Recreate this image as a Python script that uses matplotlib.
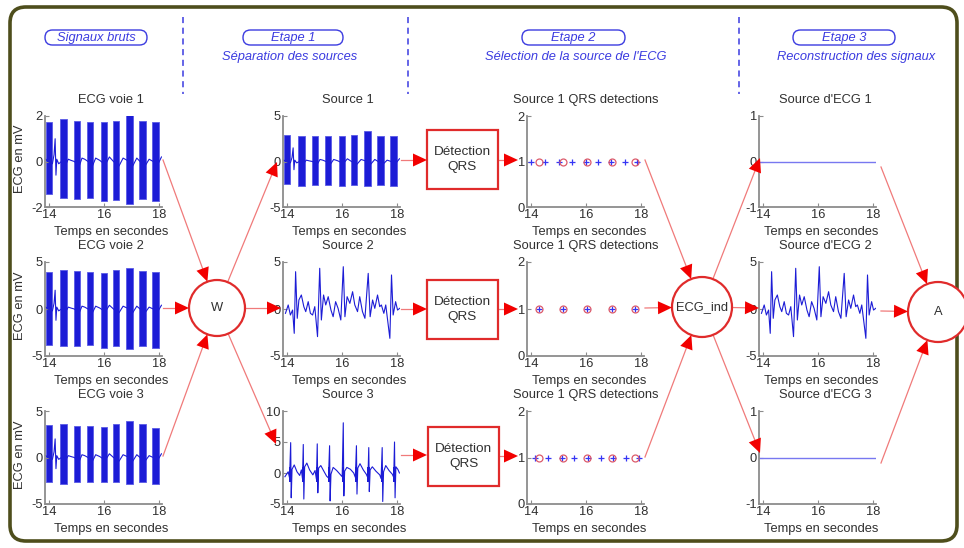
import numpy as np
import matplotlib
matplotlib.use("Agg")
import matplotlib.pyplot as plt
from matplotlib.patches import Circle, Rectangle, Polygon, FancyBboxPatch

plt.rcParams['font.family'] = ['Liberation Sans', 'DejaVu Sans']
plt.rcParams['axes.unicode_minus'] = False

# ------------------------------------------------------------------ data
time_ticks = [14, 16, 18]
time_range = [13.85, 18.12]

maternal_beats = [13.99, 14.52, 15.02, 15.50, 16.00, 16.44, 16.93, 17.41, 17.88]
fetal_beats = [14.30, 15.17, 16.04, 16.95, 17.79]
source3_beats = [14.14, 14.60, 15.11, 15.56, 16.06, 16.54, 16.99, 17.48, 17.93]

voie1_top = [1.75, 1.85, 1.8, 1.75, 1.75, 1.8, 2.15, 1.8, 1.75]
voie1_bot = [-1.45, -1.6, -1.65, -1.6, -1.75, -1.7, -1.85, -1.65, -1.75]
voie2_top = [3.9, 4.1, 4.0, 3.9, 3.8, 4.1, 4.4, 4.0, 3.9]
voie2_bot = [-3.8, -3.9, -3.9, -3.8, -4.1, -3.9, -4.3, -3.9, -4.1]
voie3_top = [3.5, 3.6, 3.4, 3.4, 3.3, 3.6, 3.9, 3.6, 3.2]
voie3_bot = [-2.6, -2.8, -2.6, -2.6, -2.6, -2.6, -2.8, -2.6, -2.8]
source1_top = [2.9, 2.8, 2.8, 2.8, 2.8, 2.9, 3.4, 2.8, 2.8]
source1_bot = [-2.5, -2.7, -2.6, -2.6, -2.7, -2.6, -2.7, -2.6, -2.7]

baseline_t = [13.88, 13.95, 14.12, 14.18, 14.22, 14.25, 14.28, 14.35, 14.45, 14.6,
              14.7, 14.8, 14.92, 15.1, 15.2, 15.3, 15.42, 15.58, 15.7, 15.85,
              16.05, 16.2, 16.35, 16.55, 16.7, 16.85, 17.05, 17.2, 17.32, 17.5,
              17.65, 17.8, 17.98, 18.1]
baseline_v = [0.1, 0.0, -0.1, 0.3, 1.0, -0.6, 0.1, -0.1, 0.0, -0.15,
              0.1, 0.05, 0.0, -0.2, 0.15, 0.1, 0.0, -0.2, 0.15, 0.05,
              -0.15, 0.2, 0.0, -0.2, 0.15, 0.05, -0.2, 0.15, 0.0, -0.2,
              0.1, 0.0, -0.1, 0.2]

source2_t = [13.94, 14.04, 14.12, 14.20, 14.26, 14.31, 14.37, 14.43, 14.52, 14.61,
             14.68, 14.77, 14.85, 14.93, 15.01, 15.11, 15.19, 15.25, 15.33, 15.41,
             15.50, 15.60, 15.68, 15.77, 15.86, 15.96, 16.05, 16.11, 16.19, 16.29,
             16.39, 16.47, 16.57, 16.65, 16.75, 16.84, 16.96, 17.03, 17.12, 17.20,
             17.30, 17.38, 17.44, 17.53, 17.60, 17.75, 17.81, 17.87, 17.96, 18.03,
             18.11]
source2_v = [-0.46, 0.43, -0.64, -0.11, -2.59, 3.97, -0.99, 0.96, 1.49, 0.25,
             -0.28, 0.78, -0.46, -0.64, 0.25, -2.94, 4.33, -1.17, 1.49, 0.43,
             1.31, -0.11, -0.82, 0.78, 0.07, -1.17, 4.50, -0.82, 1.31, 0.60,
             1.84, 0.43, -0.28, 1.31, -0.28, -0.99, 3.79, -0.82, 0.96, 0.07,
             1.49, 0.25, 0.43, -0.46, 0.43, -3.12, 3.62, -0.64, 0.78, -0.11,
             0.07]

source3_t = [13.92, 14.04, 14.09, 14.13, 14.15, 14.18, 14.26, 14.36, 14.46,
             14.52, 14.56, 14.59, 14.61, 14.64, 14.72, 14.82, 14.94,
             15.02, 15.07, 15.10, 15.12, 15.15, 15.23, 15.34, 15.44,
             15.51, 15.55, 15.57, 15.60, 15.68, 15.81, 15.93,
             16.01, 16.05, 16.07, 16.10, 16.18, 16.31, 16.43,
             16.49, 16.53, 16.55, 16.58, 16.66, 16.78, 16.89,
             16.95, 16.98, 17.00, 17.03, 17.11, 17.24, 17.38,
             17.43, 17.47, 17.49, 17.52, 17.60, 17.72, 17.84,
             17.89, 17.92, 17.94, 17.97, 18.04, 18.10]
source3_v = [-0.6, 0.2, -0.8, 4.9, -4.0, 0.6, 1.3, 0.2, -0.4,
             0.5, -0.9, 4.6, -4.2, 1.0, 1.6, 0.5, -0.3,
             0.4, -1.0, 4.7, -3.2, 0.8, 1.2, 0.3, -0.5,
             -0.8, 4.4, -4.5, -0.2, 0.9, 0.4, -0.2,
             -0.6, 8.1, -3.7, 0.3, 0.9, 0.6, 0.0,
             -0.7, 4.4, -3.4, 0.8, 1.5, 0.5, -0.2,
             -0.8, 4.1, -3.0, 0.5, 1.0, 0.3, -0.3,
             -0.9, 4.1, -4.6, 0.2, 1.2, 0.4, -0.2,
             -0.7, 5.0, -4.0, 1.0, 0.6, 0.0]
source3_blob = [-1.5, 1.0]

flat_t = [13.88, 18.12]
flat_v = [0.0, 0.0]
detection_level = 1

col_titles = [["ECG voie 1", "Source 1", "Source 1 QRS detections", "Source d'ECG 1"],
              ["ECG voie 2", "Source 2", "Source 1 QRS detections", "Source d'ECG 2"],
              ["ECG voie 3", "Source 3", "Source 1 QRS detections", "Source d'ECG 3"]]
xlabel_text = "Temps en secondes"
ylabel_text = "ECG en mV"

# ------------------------------------------------------------------ style
W, H = 964, 548
BLUE = '#1c1cd6'
LBLUE = '#7878f0'
HEAD_BLUE = '#3b3be0'
TXT = '#303030'
SPINE = '#8c8c8c'
RED = '#e02b2b'
LRED = '#f07a7a'
FS = 9.3

fig = plt.figure(figsize=(W / 100, H / 100), dpi=100)
fig.patch.set_facecolor('white')

col_left = [45, 283, 527, 759]
col_w = 117
row_top = [116, 262, 411]
row_bot = [207, 356, 504]
title_x = [111, 348, 586, 825]
xlabel_x = [111, 349, 589, 821]


def make_ax(r, c, ylim, yticks):
    l = col_left[c]
    ax = fig.add_axes([l / W, 1 - row_bot[r] / H, col_w / W, (row_bot[r] - row_top[r]) / H])
    ax.set_xlim(*time_range)
    ax.set_ylim(*ylim)
    ax.set_xticks(time_ticks)
    ax.set_yticks(yticks)
    for s in ['top', 'right']:
        ax.spines[s].set_visible(False)
    for s in ['left', 'bottom']:
        ax.spines[s].set_color(SPINE)
        ax.spines[s].set_linewidth(1.3)
    ax.tick_params(direction='in', length=3, width=0.8, colors=SPINE,
                   labelcolor=TXT, labelsize=FS, pad=1.5)
    ax.patch.set_alpha(0)
    return ax


def bursty(ax, top, bot, scale):
    ax.plot(baseline_t, np.array(baseline_v) * scale, color=BLUE, lw=0.8)
    ax.bar(maternal_beats, np.array(top) - np.array(bot), bottom=bot, width=0.23,
           color=BLUE, edgecolor='#5a5ae6', linewidth=0.6)


# column 1: raw ECG
ax = make_ax(0, 0, (-2, 2), [-2, 0, 2]); bursty(ax, voie1_top, voie1_bot, 1.0)
ax = make_ax(1, 0, (-5, 5), [-5, 0, 5]); bursty(ax, voie2_top, voie2_bot, 2.0)
ax = make_ax(2, 0, (-5, 5), [-5, 0, 5]); bursty(ax, voie3_top, voie3_bot, 2.0)

# column 2: sources
ax = make_ax(0, 1, (-5, 5), [-5, 0, 5]); bursty(ax, source1_top, source1_bot, 1.5)
ax = make_ax(1, 1, (-5, 5), [-5, 0, 5])
ax.plot(source2_t, source2_v, color=BLUE, lw=0.8)
ax = make_ax(2, 1, (-5, 10), [-5, 0, 5, 10])
ax.bar(np.array(source3_beats) - 0.02, source3_blob[1] - source3_blob[0], bottom=source3_blob[0],
       width=0.08, color=BLUE, linewidth=0)
ax.plot(source3_t, source3_v, color=BLUE, lw=0.8)

# column 3: detections
det_plus = [maternal_beats, fetal_beats, source3_beats]
for r in range(3):
    ax = make_ax(r, 2, (0, 2), [0, 1, 2])
    ax.plot(det_plus[r], [detection_level] * len(det_plus[r]), linestyle='none', marker='+',
            ms=5, mew=0.9, color='#3535f5')
    ax.plot(fetal_beats, [detection_level] * len(fetal_beats), linestyle='none', marker='o',
            ms=5, mew=0.9, mfc='none', mec='#dc5a6a')

# column 4: reconstructed
ax = make_ax(0, 3, (-1, 1), [-1, 0, 1]); ax.plot(flat_t, flat_v, color=LBLUE, lw=1.0)
ax = make_ax(1, 3, (-5, 5), [-5, 0, 5]); ax.plot(source2_t, source2_v, color=BLUE, lw=0.8)
ax = make_ax(2, 3, (-1, 1), [-1, 0, 1]); ax.plot(flat_t, flat_v, color=LBLUE, lw=1.0)

# ------------------------------------------------------------------ overlay (pixel coords)
ov = fig.add_axes([0, 0, 1, 1], zorder=20)
ov.set_xlim(0, W)
ov.set_ylim(H, 0)
ov.axis('off')
ov.patch.set_alpha(0)

# frame
ov.add_patch(FancyBboxPatch((10, 7), 947, 534, boxstyle="round,pad=0,rounding_size=16",
                            fill=False, ec='#4e4e1c', lw=2.6))

# titles / labels
for r in range(3):
    for c in range(4):
        ov.text(title_x[c], row_top[r] - 16, col_titles[r][c], ha='center', va='center',
                fontsize=FS, color=TXT)
        ov.text(xlabel_x[c], row_bot[r] + 25, xlabel_text, ha='center', va='center',
                fontsize=FS, color=TXT)
    ov.text(20, (row_top[r] + row_bot[r]) / 2 - 3, ylabel_text, rotation=90, ha='center',
            va='center', fontsize=FS, color=TXT)

# header
def pill(cx, cy, w, h, label):
    ov.add_patch(FancyBboxPatch((cx - w / 2, cy - h / 2), w, h,
                                boxstyle="round,pad=0,rounding_size=%f" % (h / 2),
                                fill=False, ec=HEAD_BLUE, lw=1.0))
    ov.text(cx, cy, label, ha='center', va='center', fontsize=FS, color=HEAD_BLUE,
            style='italic')

pill(96, 37.5, 102, 15, "Signaux bruts")
pill(293, 37.5, 100, 15, "Etape 1")
pill(573.5, 37.5, 103, 15, "Etape 2")
pill(844, 37.5, 102, 15, "Etape 3")
ov.text(290, 57, "Séparation des sources", ha='center', va='center', fontsize=FS,
        color=HEAD_BLUE, style='italic')
ov.text(576, 57, "Sélection de la source de l'ECG", ha='center', va='center', fontsize=FS,
        color=HEAD_BLUE, style='italic')
ov.text(856, 57, "Reconstruction des signaux", ha='center', va='center', fontsize=FS,
        color=HEAD_BLUE, style='italic')
for x in [183, 408, 739]:
    ov.plot([x, x], [17, 94], color=HEAD_BLUE, lw=1.1, linestyle=(0, (4, 3)))

# nodes
nodes = {'W': (217, 308, 28), 'ECG_ind': (702, 307, 30), 'A': (938, 312, 30)}
for name, (cx, cy, r) in nodes.items():
    ov.add_patch(Circle((cx, cy), r, facecolor='white', edgecolor=RED, lw=1.6, zorder=3))
    ov.text(cx, cy, name, ha='center', va='center', fontsize=FS, color=TXT, zorder=4)

boxes = [(427, 130, 71, 59), (427, 280, 71, 59), (428, 427, 71, 59)]
for (x, y, w, h) in boxes:
    ov.add_patch(Rectangle((x, y), w, h, facecolor='white', edgecolor=RED, lw=1.6, zorder=3))
    ov.text(x + w / 2, y + h / 2, "Détection\nQRS", ha='center', va='center', fontsize=FS + 0.4,
            color=TXT, linespacing=1.25, zorder=4)


def arrow(p0, p1, L=14, wd=13):
    p0 = np.array(p0, float); p1 = np.array(p1, float)
    d = (p1 - p0) / np.hypot(*(p1 - p0))
    n = np.array([-d[1], d[0]])
    base = p1 - d * L
    ov.plot([p0[0], base[0]], [p0[1], base[1]], color=LRED, lw=0.9, zorder=2)
    ov.add_patch(Polygon([p1, base + n * wd / 2, base - n * wd / 2], closed=True,
                         facecolor='#f20000', edgecolor='none', zorder=5))


def on_circle(node, toward):
    cx, cy, r = nodes[node]
    v = np.array(toward, float) - np.array([cx, cy])
    v /= np.hypot(*v)
    return (cx + v[0] * r, cy + v[1] * r)

# raw -> W
arrow((163, 160), on_circle('W', (163, 160)))
arrow((163, 308), on_circle('W', (163, 308)))
arrow((163, 456), on_circle('W', (163, 456)))
# W -> sources
arrow(on_circle('W', (277, 162)), (277, 162))
arrow(on_circle('W', (281, 308)), (281, 308))
arrow(on_circle('W', (276, 444)), (276, 444))
# sources -> boxes -> detections
for (ys, yb) in [(160, 160), (309, 309), (455, 456)]:
    arrow((401, ys), (427, ys))
    arrow((499, yb), (518, yb))
# detections -> ECG_ind
arrow((645, 160), on_circle('ECG_ind', (645, 160)))
arrow((645, 308), on_circle('ECG_ind', (645, 308)))
arrow((645, 457), on_circle('ECG_ind', (645, 457)))
# ECG_ind -> reconstructed
arrow(on_circle('ECG_ind', (760, 158)), (760, 158))
arrow(on_circle('ECG_ind', (759, 308)), (759, 308))
arrow(on_circle('ECG_ind', (760, 453)), (760, 453))
# reconstructed -> A
arrow((881, 167), on_circle('A', (881, 167)))
arrow((881, 311), on_circle('A', (881, 311)))
arrow((881, 463), on_circle('A', (881, 463)))

fig.savefig('out.png', dpi=100, facecolor='white')
